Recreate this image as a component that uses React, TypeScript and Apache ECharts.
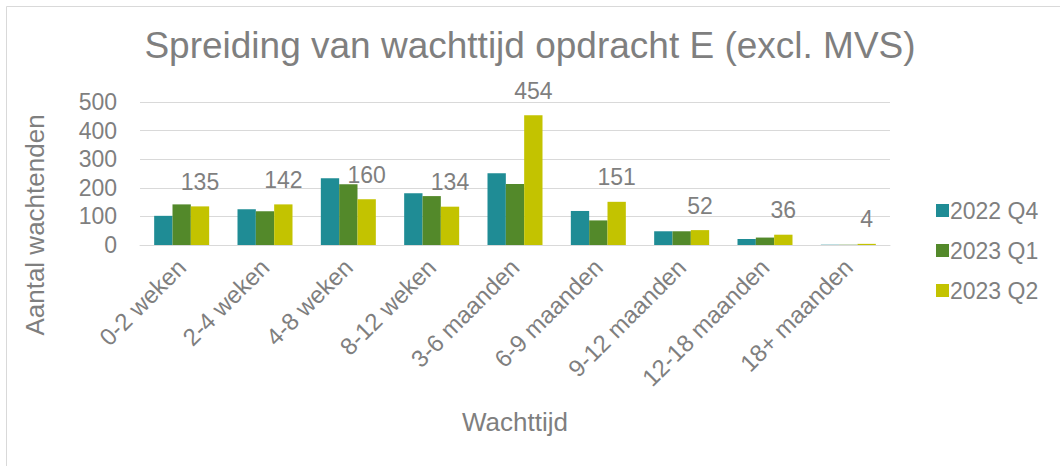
import React, { useEffect, useRef } from "react";
import * as echarts from "echarts";

const titleText = "Spreiding van wachttijd opdracht E (excl. MVS)";
const yAxisTitle = "Aantal wachtenden";
const xAxisTitle = "Wachttijd";
const categories = [
  "0-2 weken",
  "2-4 weken",
  "4-8 weken",
  "8-12 weken",
  "3-6 maanden",
  "6-9 maanden",
  "9-12 maanden",
  "12-18 maanden",
  "18+ maanden",
];
const seriesNames = ["2022 Q4", "2023 Q1", "2023 Q2"];
const q4_2022 = [102, 125, 233, 181, 251, 119, 48, 21, 1];
const q1_2023 = [142, 118, 212, 171, 213, 86, 48, 26, 1];
const q2_2023 = [135, 142, 160, 134, 454, 151, 52, 36, 4];
const colors = ["#1F8C95", "#53892A", "#C3C300"];

const FONT = "Liberation Sans, Arial, sans-serif";
const GRAY = "#7f7f7f";

export default function App() {
  const ref = useRef<HTMLDivElement>(null);
  useEffect(() => {
    if (!ref.current) return;
    const chart = echarts.init(ref.current, null, { renderer: "svg" });
    const data = [q4_2022, q1_2023, q2_2023];
    chart.setOption({
      animation: false,
      backgroundColor: "#ffffff",
      textStyle: { fontFamily: FONT },
      title: {
        text: titleText,
        left: "center",
        top: 22,
        textStyle: { fontFamily: FONT, fontSize: 37, fontWeight: "normal", color: GRAY },
      },
      legend: {
        orient: "vertical",
        left: 931,
        top: 194,
        itemWidth: 13,
        itemHeight: 13,
        itemGap: 17,
        icon: "rect",
        textStyle: { fontFamily: FONT, fontSize: 23, color: GRAY, padding: [0, 0, 0, -4] },
        data: seriesNames,
      },
      grid: { left: 140, right: 170, top: 102, bottom: 221, containLabel: false },
      xAxis: {
        type: "category",
        data: categories,
        axisLine: { lineStyle: { color: "#d9d9d9", width: 1 } },
        axisTick: { show: false },
        axisLabel: {
          rotate: 45,
          fontFamily: FONT,
          fontSize: 24,
          color: GRAY,
          margin: 18,
          interval: 0,
        },
      },
      yAxis: {
        type: "value",
        min: 0,
        max: 500,
        interval: 100,
        axisLine: { show: false },
        axisTick: { show: false },
        splitLine: { lineStyle: { color: "#d9d9d9", width: 1 } },
        axisLabel: { fontFamily: FONT, fontSize: 23, color: GRAY, margin: 23 },
      },
      series: seriesNames.map((name, i) => ({
        name,
        type: "bar",
        data: data[i],
        barGap: "0%",
        barCategoryGap: "34%",
        itemStyle: { color: colors[i] },
        label:
          i === 2
            ? {
                show: true,
                position: "top",
                distance: 13,
                fontFamily: FONT,
                fontSize: 23,
                color: GRAY,
              }
            : { show: false },
      })),
      graphic: [
        {
          type: "rect",
          shape: { x: 6.5, y: 6.5, width: 1070, height: 480 },
          style: { fill: "none", stroke: "#d9d9d9", lineWidth: 1 },
          silent: true,
        },
        {
          type: "text",
          x: 35,
          y: 225,
          rotation: Math.PI / 2,
          style: {
            text: yAxisTitle,
            fontFamily: FONT,
            fontSize: 26,
            fill: GRAY,
            align: "center",
            verticalAlign: "middle",
          },
        },
        {
          type: "text",
          x: 515,
          y: 422,
          style: {
            text: xAxisTitle,
            fontFamily: FONT,
            fontSize: 26,
            fill: GRAY,
            align: "center",
            verticalAlign: "middle",
          },
        },
      ],
    });
    return () => chart.dispose();
  }, []);
  return (
    <div
      ref={ref}
      style={{ position: "fixed", left: 0, top: 0, width: 1060, height: 466 }}
    />
  );
}
